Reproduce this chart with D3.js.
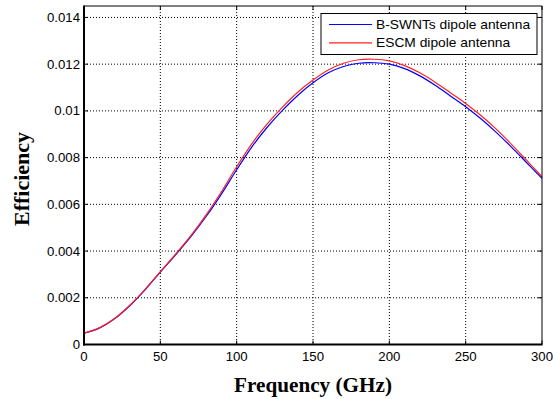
<!DOCTYPE html>
<html>
<head>
<meta charset="utf-8">
<script src="https://cdn.jsdelivr.net/npm/d3@7"></script>
<style>
  body { margin: 0; background: #fff; }
  svg { display: block; }
</style>
</head>
<body>
<div class="vis-chart"></div>
<script>
// frequency samples (GHz)
const freq = [0, 10, 20, 30, 40, 50, 60, 70, 80, 90, 100, 110, 120, 130, 140, 150,
  160, 170, 180, 190, 200, 210, 220, 230, 240, 250, 260, 270, 280, 290, 300];

const bswnt = [0.00048, 0.00070, 0.00110, 0.00166, 0.00234, 0.00310, 0.00384, 0.00462,
  0.00548, 0.00644, 0.00748, 0.00846, 0.00930, 0.01002, 0.01066, 0.01120, 0.01163,
  0.01190, 0.01204, 0.01206, 0.01200, 0.01181, 0.01150, 0.01110, 0.01064, 0.01018,
  0.00966, 0.00908, 0.00845, 0.00778, 0.00711];

const escm = [0.00049, 0.00071, 0.00111, 0.00168, 0.00236, 0.00312, 0.00387, 0.00466,
  0.00555, 0.00654, 0.00761, 0.00860, 0.00944, 0.01016, 0.01080, 0.01132, 0.01175,
  0.01204, 0.01219, 0.01221, 0.01214, 0.01194, 0.01163, 0.01123, 0.01078, 0.01032,
  0.00980, 0.00922, 0.00857, 0.00788, 0.00718];

const xTicks = [0, 50, 100, 150, 200, 250, 300];
const yTicks = [0, 0.002, 0.004, 0.006, 0.008, 0.01, 0.012, 0.014];
const yTickLabels = ['0', '0.002', '0.004', '0.006', '0.008', '0.01', '0.012', '0.014'];
const seriesNames = ['B-SWNTs dipole antenna', 'ESCM dipole antenna'];
const seriesColors = ['#0000ff', '#ff2020'];

const width = 553, height = 399;
const pLeft = 84, pRight = 542, pTop = 6, pBottom = 344.5;

const x = d3.scaleLinear().domain([0, 300]).range([pLeft, pRight]);
const y = d3.scaleLinear().domain([0, 0.01449]).range([pBottom, pTop]);

const sans = 'Liberation Sans, Arial, sans-serif';
const serif = 'Liberation Serif, Times New Roman, serif';

const svg = d3.select('.vis-chart')
  .append('svg')
  .attr('width', width)
  .attr('height', height);

// grid
svg.append('g')
  .selectAll('line')
  .data(xTicks.slice(1, -1))
  .enter().append('line')
  .attr('x1', d => x(d)).attr('x2', d => x(d))
  .attr('y1', pTop).attr('y2', pBottom)
  .attr('stroke', '#000').attr('stroke-width', 1)
  .attr('stroke-dasharray', '1,2');

svg.append('g')
  .selectAll('line')
  .data(yTicks.slice(1))
  .enter().append('line')
  .attr('x1', pLeft).attr('x2', pRight)
  .attr('y1', d => y(d)).attr('y2', d => y(d))
  .attr('stroke', '#000').attr('stroke-width', 1)
  .attr('stroke-dasharray', '1,2');

// tick marks, inside, all four sides
const tickLen = 4;
const tk = svg.append('g').attr('stroke', '#000').attr('stroke-width', 1);
xTicks.forEach(t => {
  tk.append('line').attr('x1', x(t)).attr('x2', x(t)).attr('y1', pBottom).attr('y2', pBottom - tickLen);
  tk.append('line').attr('x1', x(t)).attr('x2', x(t)).attr('y1', pTop).attr('y2', pTop + tickLen);
});
yTicks.forEach(t => {
  tk.append('line').attr('x1', pLeft).attr('x2', pLeft + tickLen).attr('y1', y(t)).attr('y2', y(t));
  tk.append('line').attr('x1', pRight).attr('x2', pRight - tickLen).attr('y1', y(t)).attr('y2', y(t));
});

// curves
const line = d3.line()
  .x((d, i) => x(freq[i]))
  .y(d => y(d))
  .curve(d3.curveCatmullRom);

[bswnt, escm].forEach((s, k) => {
  svg.append('path')
    .datum(s)
    .attr('d', line)
    .attr('fill', 'none')
    .attr('stroke', seriesColors[k])
    .attr('stroke-width', 1.2);
});

// axes box
svg.append('line').attr('x1', pLeft).attr('x2', pRight).attr('y1', pTop).attr('y2', pTop)
  .attr('stroke', '#000').attr('stroke-width', 1);
svg.append('line').attr('x1', pRight).attr('x2', pRight).attr('y1', pTop).attr('y2', pBottom)
  .attr('stroke', '#000').attr('stroke-width', 1);
svg.append('line').attr('x1', pLeft).attr('x2', pLeft).attr('y1', pTop - 0.5).attr('y2', pBottom + 1)
  .attr('stroke', '#000').attr('stroke-width', 2);
svg.append('line').attr('x1', pLeft - 1).attr('x2', pRight + 0.5).attr('y1', pBottom).attr('y2', pBottom)
  .attr('stroke', '#000').attr('stroke-width', 2);

// tick labels (text in the reference is a bit wide, so stretch slightly)
svg.append('g')
  .selectAll('text')
  .data(xTicks)
  .enter().append('text')
  .attr('transform', d => `translate(${x(d)},361) scale(1.1,1)`)
  .attr('text-anchor', 'middle')
  .style('font-family', sans)
  .style('font-size', '12px')
  .text(d => d);

svg.append('g')
  .selectAll('text')
  .data(yTicks)
  .enter().append('text')
  .attr('transform', d => `translate(80,${y(d) + 4.5}) scale(1.1,1)`)
  .attr('text-anchor', 'end')
  .style('font-family', sans)
  .style('font-size', '12px')
  .text((d, i) => yTickLabels[i]);

// axis titles
svg.append('text')
  .attr('transform', 'translate(313,392) scale(1.06,1)')
  .attr('text-anchor', 'middle')
  .style('font-family', serif)
  .style('font-weight', 'bold')
  .style('font-size', '20px')
  .text('Frequency (GHz)');

svg.append('text')
  .attr('transform', 'translate(29,179) rotate(-90)')
  .attr('text-anchor', 'middle')
  .style('font-family', serif)
  .style('font-weight', 'bold')
  .style('font-size', '22px')
  .text('Efficiency');

// legend
const lg = svg.append('g');
lg.append('rect')
  .attr('x', 321).attr('y', 13.5)
  .attr('width', 216).attr('height', 41)
  .attr('fill', '#fff').attr('stroke', '#000').attr('stroke-width', 1);
seriesNames.forEach((n, k) => {
  const ly = 24.5 + k * 18.3;
  lg.append('line')
    .attr('x1', 329).attr('x2', 372)
    .attr('y1', ly).attr('y2', ly)
    .attr('stroke', seriesColors[k]).attr('stroke-width', 1.2);
  lg.append('text')
    .attr('transform', `translate(376,${ly + 4.5}) scale(1.15,1)`)
    .style('font-family', sans)
    .style('font-size', '12px')
    .text(n);
});
</script>
</body>
</html>
